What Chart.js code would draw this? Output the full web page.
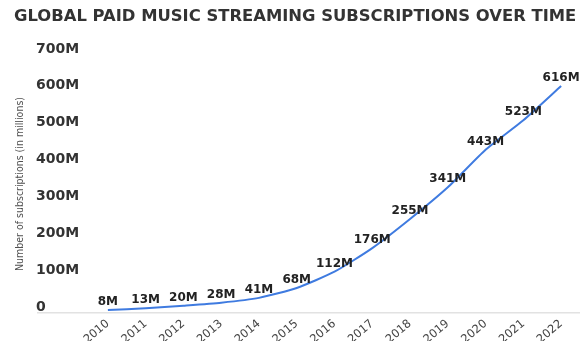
<!DOCTYPE html>
<html>
<head>
<meta charset="utf-8">
<script src="https://cdn.jsdelivr.net/npm/chart.js@4/dist/chart.umd.min.js"></script>
<style>
  html, body { margin: 0; padding: 0; background: #fff; }
  #wrap { width: 584px; height: 341px; }
</style>
</head>
<body>
<div id="wrap"><canvas id="subs-chart" width="584" height="341"></canvas></div>
<script>
// Paid streaming subscriptions, millions, per year
const years = ['2010', '2011', '2012', '2013', '2014', '2015', '2016', '2017', '2018', '2019', '2020', '2021', '2022'];
const subscriptions = [8, 13, 20, 28, 41, 68, 112, 176, 255, 341, 443, 523, 616];
const yTickValues = [0, 100, 200, 300, 400, 500, 600, 700];

const tickFont = { family: "'DejaVu Sans', sans-serif", size: 14, weight: 'bold' };

// Writes "NNNM" above every point of the line
const pointLabels = {
    id: 'pointLabels',
    afterDatasetsDraw(chart) {
        const ctx = chart.ctx;
        const meta = chart.getDatasetMeta(0);
        ctx.save();
        ctx.font = "bold 12px 'DejaVu Sans', sans-serif";
        ctx.fillStyle = '#222';
        ctx.textAlign = 'center';
        ctx.textBaseline = 'middle';
        meta.data.forEach((pt, i) => {
            ctx.fillText(subscriptions[i] + 'M', pt.x, pt.y - 8);
        });
        ctx.restore();
    }
};

const ctx = document.getElementById('subs-chart').getContext('2d');
new Chart(ctx, {
    type: 'line',
    data: {
        labels: years,
        datasets: [{
            data: subscriptions,
            borderColor: '#3f7be0',
            borderWidth: 2,
            tension: 0.2,
            pointRadius: 0,
            fill: false
        }]
    },
    options: {
        responsive: false,
        animation: false,
        devicePixelRatio: 1,
        layout: { padding: { left: 14, right: 4, top: 0, bottom: 0 } },
        plugins: {
            legend: { display: false },
            tooltip: { enabled: false },
            title: {
                display: true,
                text: 'GLOBAL PAID MUSIC STREAMING SUBSCRIPTIONS OVER TIME',
                align: 'start',
                color: '#333',
                font: { family: "'DejaVu Sans', sans-serif", size: 16.4, weight: 'bold' },
                padding: { top: 7, bottom: 28.3 }
            }
        },
        scales: {
            // holds only the rotated axis caption, outside the tick labels
            yTitle: {
                type: 'linear',
                position: 'left',
                weight: 10,
                display: true,
                grid: { display: false },
                border: { display: false },
                ticks: { display: false },
                title: {
                    display: true,
                    text: 'Number of subscriptions (in millions)',
                    color: '#505050',
                    font: { family: "'Liberation Sans Narrow', 'DejaVu Sans Condensed', sans-serif", size: 10.5 },
                    padding: { top: 0, bottom: 0 }
                },
                afterFit(scale) { scale.width = 22; }
            },
            y: {
                position: 'left',
                weight: 0,
                min: 0,
                max: 700,
                afterBuildTicks(scale) {
                    scale.ticks = yTickValues.map(v => ({ value: v }));
                },
                border: { display: false },
                grid: {
                    color: c => (c.tick && c.tick.value === 0) ? '#e2e2e2' : 'transparent',
                    lineWidth: 1.5,
                    drawTicks: true,
                    tickLength: 52
                },
                ticks: {
                    crossAlign: 'far',
                    labelOffset: -6,
                    color: '#333',
                    font: tickFont,
                    callback: v => v === 0 ? '0' : v + 'M'
                },
                afterFit(scale) { scale.width = 53; }
            },
            x: {
                offset: true,
                grid: { display: false },
                border: { display: false },
                ticks: {
                    minRotation: 40,
                    maxRotation: 40,
                    padding: -4,
                    color: '#444',
                    font: { family: "'DejaVu Sans', sans-serif", size: 11.5 }
                },
                afterFit(scale) { scale.height = 28; }
            }
        }
    },
    plugins: [pointLabels]
});
</script>
</body>
</html>
